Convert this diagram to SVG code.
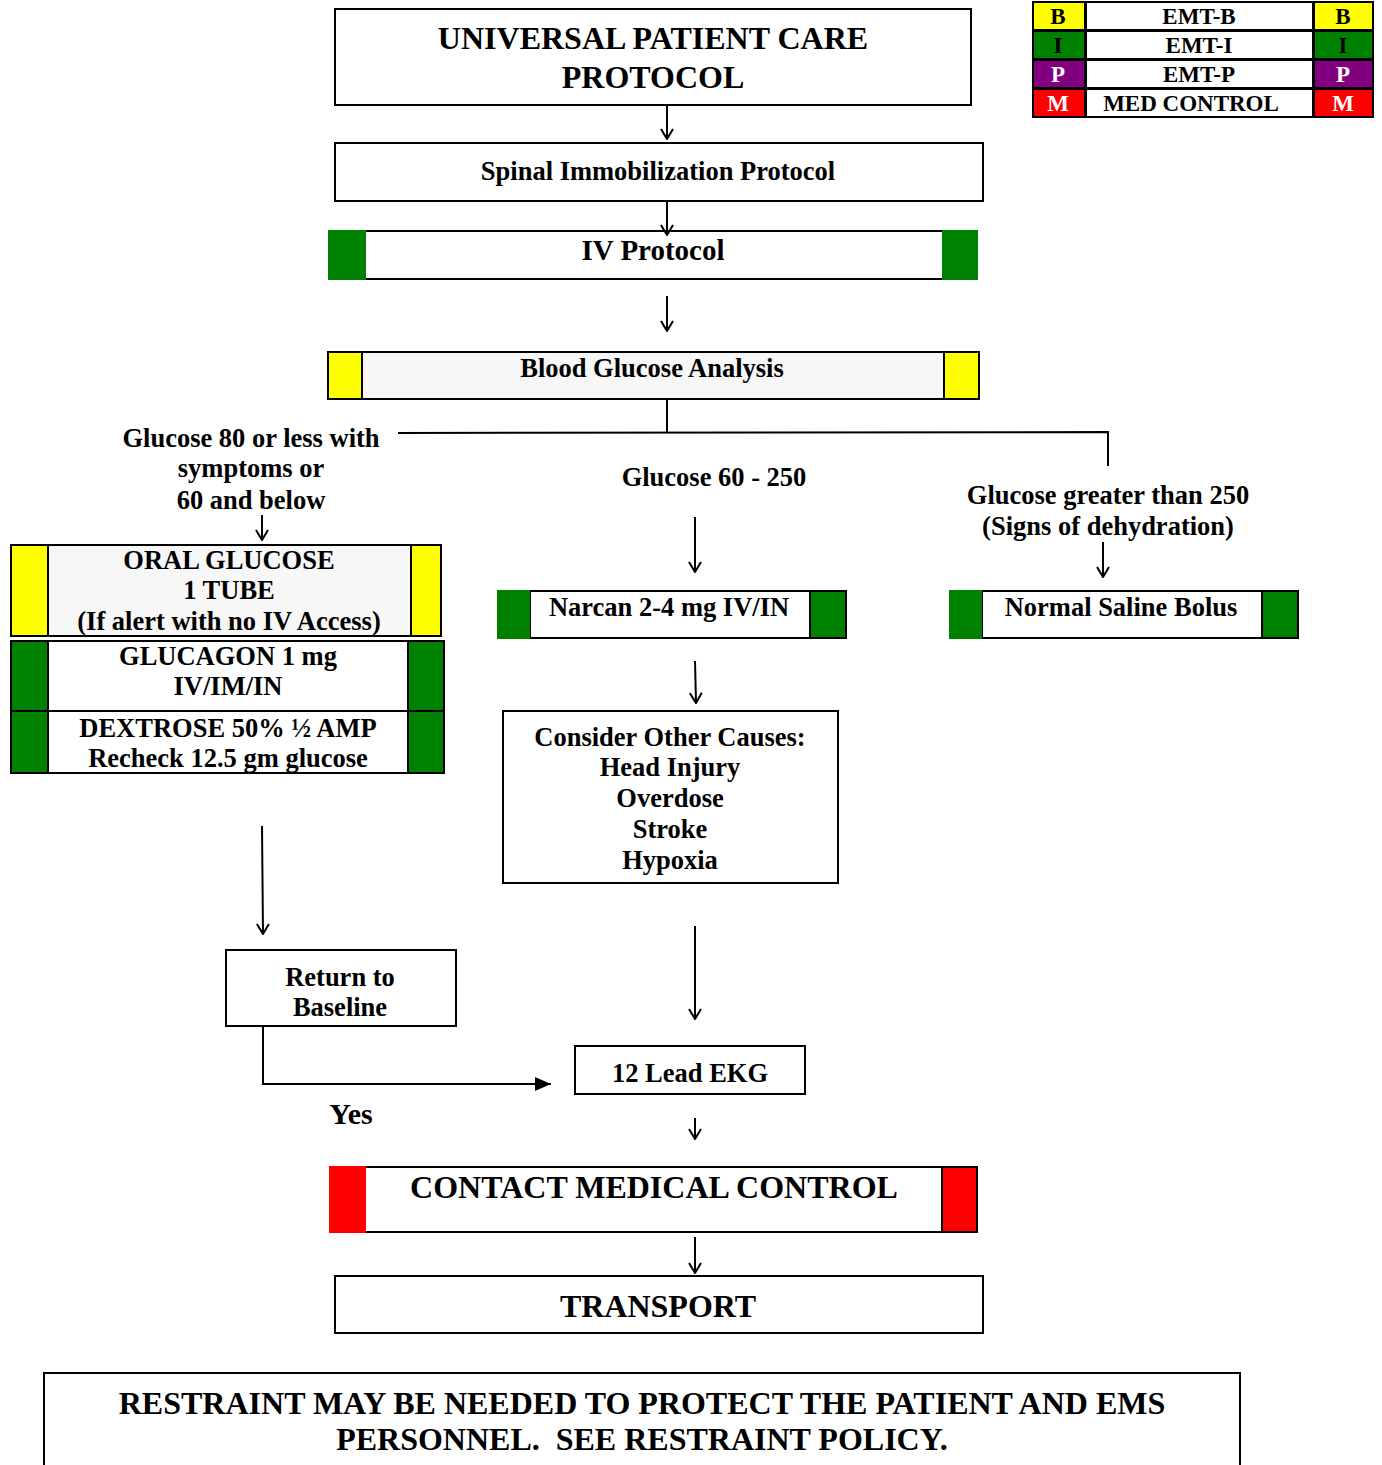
<svg xmlns="http://www.w3.org/2000/svg" width="1382" height="1465" viewBox="0 0 1382 1465">
<defs>
<style>
text{font-family:"Liberation Serif","Times New Roman",serif;font-weight:bold;fill:#000;text-anchor:middle}
.box{fill:#fff;stroke:#000;stroke-width:2}
.gray{fill:#f7f7f7;stroke:#000;stroke-width:2}
.y{fill:#ffff00}
.g{fill:#008000}
.p{fill:#800080}
.r{fill:#ff0000}
.cn{fill:none;stroke:#000;stroke-width:2}
.t26{font-size:26.5px}
.t32{font-size:32px}
.lg{font-size:23px}
.w{fill:#fff}
</style>
<marker id="arr" viewBox="0 0 12 14" refX="11" refY="7" markerWidth="12" markerHeight="14" markerUnits="userSpaceOnUse" orient="auto">
<path d="M1,1 L11,7 L1,13" fill="none" stroke="#000" stroke-width="2"/>
</marker>
<marker id="tri" viewBox="0 0 16 14" refX="16" refY="7" markerWidth="16" markerHeight="14" markerUnits="userSpaceOnUse" orient="auto">
<path d="M0,0 L16,7 L0,14 Z" fill="#000"/>
</marker>
</defs>
<rect width="1382" height="1465" fill="#fff"/>

<g id="legend">
<rect x="1032" y="1" width="342" height="117" fill="#000"/>
<rect x="1034" y="3" width="50" height="26" class="y"/>
<rect x="1087" y="3" width="225" height="26" fill="#fff"/>
<rect x="1315" y="3" width="57" height="26" class="y"/>
<rect x="1034" y="32" width="50" height="26" class="g"/>
<rect x="1087" y="32" width="225" height="26" fill="#fff"/>
<rect x="1315" y="32" width="57" height="26" class="g"/>
<rect x="1034" y="61" width="50" height="26" class="p"/>
<rect x="1087" y="61" width="225" height="26" fill="#fff"/>
<rect x="1315" y="61" width="57" height="26" class="p"/>
<rect x="1034" y="90" width="50" height="26" class="r"/>
<rect x="1087" y="90" width="225" height="26" fill="#fff"/>
<rect x="1315" y="90" width="57" height="26" class="r"/>
<text class="lg" x="1058" y="24">B</text>
<text class="lg" x="1199" y="24">EMT-B</text>
<text class="lg" x="1343" y="24">B</text>
<text class="lg" x="1058" y="53">I</text>
<text class="lg" x="1199" y="53">EMT-I</text>
<text class="lg" x="1343" y="53">I</text>
<text class="lg w" x="1058" y="82">P</text>
<text class="lg" x="1199" y="82">EMT-P</text>
<text class="lg w" x="1343" y="82">P</text>
<text class="lg w" x="1058" y="111">M</text>
<text class="lg" x="1191" y="111">MED CONTROL</text>
<text class="lg w" x="1343" y="111">M</text>
</g>

<g id="upc">
<rect x="335" y="9" width="636" height="96" class="box"/>
<text class="t32" x="653" y="49">UNIVERSAL PATIENT CARE</text>
<text class="t32" x="653" y="88">PROTOCOL</text>
</g>

<g id="spinal">
<rect x="335" y="143" width="648" height="58" class="box"/>
<text class="t26" x="658" y="180">Spinal Immobilization Protocol</text>
</g>

<g id="iv">
<rect x="329" y="231" width="648" height="48" class="box"/>
<rect x="328" y="230" width="38" height="50" class="g"/>
<rect x="942" y="230" width="36" height="50" class="g"/>
<text x="653" y="260" style="font-size:29px">IV Protocol</text>
</g>

<g id="bga">
<rect x="328" y="352" width="651" height="47" class="gray"/>
<rect x="328" y="352" width="34" height="47" class="y" stroke="#000" stroke-width="2"/>
<rect x="944" y="352" width="35" height="47" class="y" stroke="#000" stroke-width="2"/>
<text class="t26" x="652" y="377">Blood Glucose Analysis</text>
</g>

<g id="lbl-low">
<text class="t26" x="251" y="447">Glucose 80 or less with</text>
<text class="t26" x="251" y="477">symptoms or</text>
<text class="t26" x="251" y="509">60 and below</text>
</g>

<g id="lbl-mid">
<text class="t26" x="714" y="486">Glucose 60 - 250</text>
</g>

<g id="lbl-high">
<text class="t26" x="1108" y="504">Glucose greater than 250</text>
<text class="t26" x="1108" y="535">(Signs of dehydration)</text>
</g>

<g id="oral">
<rect x="11" y="545" width="430" height="91" class="gray"/>
<rect x="11" y="545" width="37" height="91" class="y" stroke="#000" stroke-width="2"/>
<rect x="411" y="545" width="30" height="91" class="y" stroke="#000" stroke-width="2"/>
<text class="t26" x="229" y="569">ORAL GLUCOSE</text>
<text class="t26" x="229" y="599">1 TUBE</text>
<text class="t26" x="229" y="630">(If alert with no IV Access)</text>
</g>

<g id="glucagon">
<rect x="11" y="641" width="433" height="70" class="box"/>
<rect x="11" y="641" width="37" height="70" class="g" stroke="#000" stroke-width="2"/>
<rect x="408" y="641" width="36" height="70" class="g" stroke="#000" stroke-width="2"/>
<text class="t26" x="228" y="665">GLUCAGON 1 mg</text>
<text class="t26" x="228" y="695">IV/IM/IN</text>
</g>

<g id="dextrose">
<rect x="11" y="711" width="433" height="62" class="box"/>
<rect x="11" y="711" width="37" height="62" class="g" stroke="#000" stroke-width="2"/>
<rect x="408" y="711" width="36" height="62" class="g" stroke="#000" stroke-width="2"/>
<text class="t26" x="228" y="737">DEXTROSE 50% ½ AMP</text>
<text class="t26" x="228" y="767">Recheck 12.5 gm glucose</text>
</g>

<g id="narcan">
<rect x="530" y="591" width="316" height="47" class="box"/>
<rect x="497" y="590" width="33" height="49" class="g"/>
<rect x="810" y="591" width="36" height="47" class="g" stroke="#000" stroke-width="2"/>
<text class="t26" x="669" y="616">Narcan 2-4 mg IV/IN</text>
</g>

<g id="saline">
<rect x="982" y="591" width="316" height="47" class="box"/>
<rect x="949" y="590" width="33" height="49" class="g"/>
<rect x="1262" y="591" width="36" height="47" class="g" stroke="#000" stroke-width="2"/>
<text class="t26" x="1121" y="616">Normal Saline Bolus</text>
</g>

<g id="consider">
<rect x="503" y="711" width="335" height="172" class="box"/>
<text class="t26" x="670" y="746">Consider Other Causes:</text>
<text class="t26" x="670" y="776">Head Injury</text>
<text class="t26" x="670" y="807">Overdose</text>
<text class="t26" x="670" y="838">Stroke</text>
<text class="t26" x="670" y="869">Hypoxia</text>
</g>

<g id="baseline">
<rect x="226" y="950" width="230" height="76" class="box"/>
<text class="t26" x="340" y="986">Return to</text>
<text class="t26" x="340" y="1016">Baseline</text>
</g>

<g id="ekg">
<rect x="575" y="1046" width="230" height="48" class="box"/>
<text class="t26" x="690" y="1082">12 Lead EKG</text>
</g>

<g id="yes">
<text x="351" y="1124" style="font-size:30px">Yes</text>
</g>

<g id="cmc">
<rect x="330" y="1167" width="647" height="65" class="box"/>
<rect x="329" y="1166" width="37" height="67" class="r"/>
<rect x="942" y="1167" width="35" height="65" class="r" stroke="#000" stroke-width="2"/>
<text class="t32" x="654" y="1198">CONTACT MEDICAL CONTROL</text>
</g>

<g id="transport">
<rect x="335" y="1276" width="648" height="57" class="box"/>
<text class="t32" x="658" y="1317">TRANSPORT</text>
</g>

<g id="restraint">
<rect x="44" y="1373" width="1196" height="100" class="box"/>
<text class="t32" x="642" y="1414">RESTRAINT MAY BE NEEDED TO PROTECT THE PATIENT AND EMS</text>
<text class="t32" x="642" y="1450">PERSONNEL.&#160; SEE RESTRAINT POLICY.</text>
</g>

<g id="connectors">
<line x1="667" y1="105" x2="667" y2="139" class="cn" marker-end="url(#arr)"/>
<line x1="667" y1="201" x2="667" y2="235" class="cn" marker-end="url(#arr)"/>
<line x1="667" y1="296" x2="667" y2="331" class="cn" marker-end="url(#arr)"/>
<polyline points="667,399 667,433" class="cn"/>
<polyline points="398,433 1108,432 1108,466" class="cn"/>
<line x1="262" y1="515" x2="262" y2="540" class="cn" marker-end="url(#arr)"/>
<line x1="695" y1="517" x2="695" y2="572" class="cn" marker-end="url(#arr)"/>
<line x1="1103" y1="542" x2="1103" y2="577" class="cn" marker-end="url(#arr)"/>
<line x1="695" y1="661" x2="696" y2="703" class="cn" marker-end="url(#arr)"/>
<line x1="262" y1="826" x2="263" y2="934" class="cn" marker-end="url(#arr)"/>
<line x1="695" y1="926" x2="695" y2="1019" class="cn" marker-end="url(#arr)"/>
<polyline points="263,1026 263,1084 551,1084" class="cn" marker-end="url(#tri)"/>
<line x1="695" y1="1118" x2="695" y2="1139" class="cn" marker-end="url(#arr)"/>
<line x1="695" y1="1237" x2="695" y2="1273" class="cn" marker-end="url(#arr)"/>
</g>
</svg>
